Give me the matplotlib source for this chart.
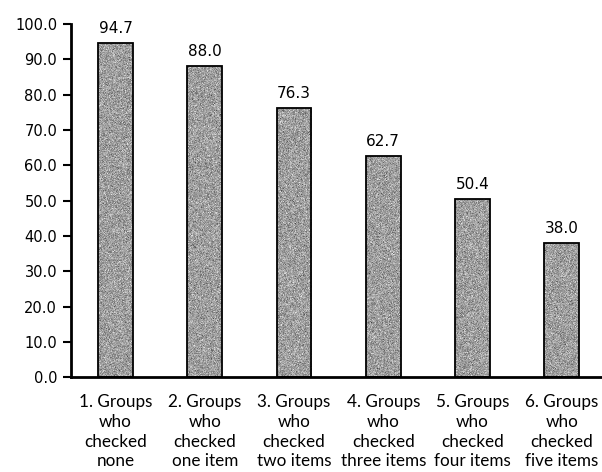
import numpy as np
import matplotlib
matplotlib.use("Agg")
import matplotlib.pyplot as plt

groups = [
    "1. Groups\nwho\nchecked\nnone",
    "2. Groups\nwho\nchecked\none item",
    "3. Groups\nwho\nchecked\ntwo items",
    "4. Groups\nwho\nchecked\nthree items",
    "5. Groups\nwho\nchecked\nfour items",
    "6. Groups\nwho\nchecked\nfive items",
]
percent = [94.7, 88.0, 76.3, 62.7, 50.4, 38.0]
yticks = [0, 10, 20, 30, 40, 50, 60, 70, 80, 90, 100]


def speckle(ax, bar, rng):
    # grainy gray fill clipped to the bar outline
    x0, y0 = bar.get_x(), bar.get_y()
    w, h = bar.get_width(), bar.get_height()
    tex = np.clip(rng.normal(0.62, 0.09, (int(h * 4) + 2, 40)), 0.25, 0.9)
    im = ax.imshow(tex, cmap="gray", vmin=0, vmax=1, extent=(x0, x0 + w, y0, y0 + h),
                   aspect="auto", interpolation="nearest", zorder=2)
    im.set_clip_path(bar)


fig = plt.figure(figsize=(6.02, 4.72), dpi=100)
ax = fig.add_axes([0.118, 0.201, 0.882, 0.748])

x = np.arange(len(groups))
bars = ax.bar(x, percent, width=0.39, color="none", edgecolor="black", linewidth=1.3, zorder=3)
rng = np.random.default_rng(3)
for b in bars:
    speckle(ax, b, rng)

for xi, v in zip(x, percent):
    ax.text(xi, v + 2.0, "{:.1f}".format(v), ha="center", va="bottom", fontsize=11, family="DejaVu Sans")

ax.set_xlim(-0.498, 5.45)
ax.set_ylim(0, 100)
ax.set_yticks(yticks)
ax.set_yticklabels(["{:.1f}".format(t) for t in yticks], fontsize=10.5)
ax.set_xticks(x)
ax.set_xticklabels(groups, fontsize=12.3, family="Lato", linespacing=1.3)
ax.tick_params(axis="x", length=0, pad=12)
ax.tick_params(axis="y", length=6, width=1.5, direction="out", pad=4)
for s in ["top", "right"]:
    ax.spines[s].set_visible(False)
ax.spines["left"].set_linewidth(2)
ax.spines["bottom"].set_linewidth(2)

fig.savefig("out.png", dpi=100)
